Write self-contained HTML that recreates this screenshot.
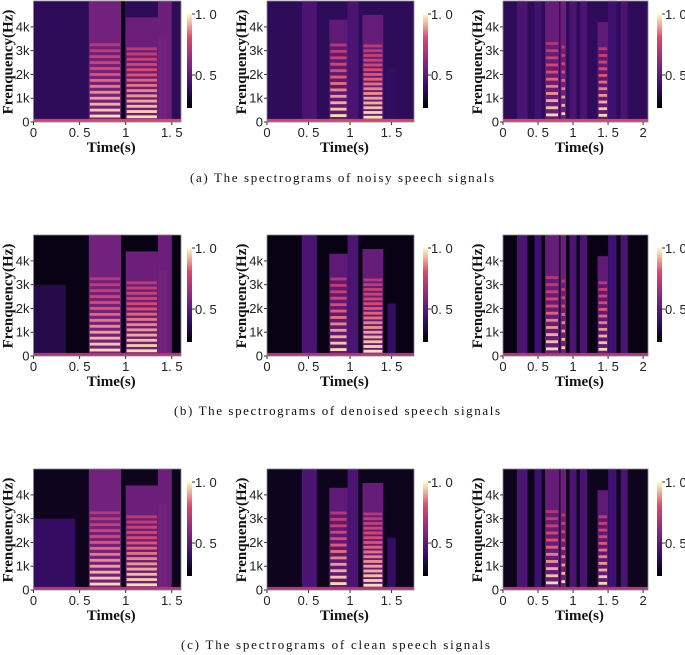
<!DOCTYPE html>
<html><head><meta charset="utf-8">
<style>
body{margin:0;background:#fff;}
svg{display:block;font-family:"Liberation Sans",sans-serif;}
.tk{font-size:13px;fill:#222;}
.lab{font-family:"Liberation Serif",serif;font-weight:bold;font-size:15px;fill:#111;}
.cap{font-family:"Liberation Serif",serif;font-size:13px;fill:#111;}
</style></head>
<body>
<svg id="fig" width="685" height="655" viewBox="0 0 685 655" xmlns="http://www.w3.org/2000/svg">
<defs>
<linearGradient id="magma" x1="0" y1="1" x2="0" y2="0">
<stop offset="0" stop-color="#000004"/><stop offset="0.25" stop-color="#3b0f70"/>
<stop offset="0.5" stop-color="#8c2981"/><stop offset="0.75" stop-color="#de4968"/>
<stop offset="1" stop-color="#fcfdbf"/></linearGradient>
</defs>
<text class="cap" x="190" y="182" textLength="304" lengthAdjust="spacing">(a)  The spectrograms of noisy speech signals</text>
<text class="cap" x="174" y="415" textLength="326" lengthAdjust="spacing">(b)  The spectrograms of denoised speech signals</text>
<text class="cap" x="181" y="649" textLength="309" lengthAdjust="spacing">(c)  The spectrograms of clean speech signals</text>
</svg>
<script>
// utterance data
const utterTmax=[1.6,1.77,2.07];
const utterTicks=[[0,0.5,1,1.5],[0,0.5,1,1.5],[0,0.5,1,1.5,2]];
const freqTicks=[0,1,2,3,4];
const freqTickLabels=["0","1k","2k","3k","4k"];
// segments per utterance: start, end, fmax(kHz), level, f0 spacing (kHz, 0 = unvoiced)
const segStart=[[0.6,0.95,1.0,1.35,1.35],[0.42,0.75,0.97,1.15,1.45],[0.2,0.45,0.6,0.82,0.95,1.1,1.35,1.5,1.68]];
const segEnd=[[0.95,0.99,1.35,1.5,1.45],[0.6,0.97,1.1,1.4,1.55],[0.35,0.55,0.8,0.9,1.05,1.2,1.5,1.62,1.78]];
const segFmax=[[5.1,5.1,4.4,5.1,3.6],[5.1,4.3,5.1,4.5,2.2],[5.1,5.1,5.1,5.1,5.1,5.1,4.2,5.1,5.1]];
const segLevel=[[0.42,0.04,0.4,0.4,0.42],[0.3,0.36,0.3,0.38,0.22],[0.3,0.26,0.38,0.4,0.3,0.3,0.36,0.26,0.3]];
const segF0=[[0.25,0,0.22,0,0],[0,0.27,0,0.2,0],[0,0,0.3,0.35,0,0,0.28,0,0]];
// per row background level (noisy, denoised, clean) and leading noise region for utterance A
const rowBg=[0.2,0.04,0.06];
const leadLevel=[0.2,0.16,0.22];
const leadEnd=[0.0,0.35,0.45];
const colorbarTicks=[1.0,0.5];
const colorbarTickLabels=["1. 0","0. 5"];

const stops=[[0,[0,0,4]],[0.25,[59,15,112]],[0.5,[140,41,129]],[0.75,[222,73,104]],[1,[252,253,191]]];
function cmap(v){v=Math.max(0,Math.min(1,v));for(let i=1;i<stops.length;i++){if(v<=stops[i][0]){const a=stops[i-1],b=stops[i];const t=(v-a[0])/(b[0]-a[0]);const c=a[1].map((x,k)=>Math.round(x+(b[1][k]-x)*t));return`rgb(${c.join(',')})`;}}return'rgb(252,253,191)';}

const svg=document.getElementById('fig');const NS='http://www.w3.org/2000/svg';
function el(tag,attrs,parent){const e=document.createElementNS(NS,tag);for(const k in attrs)e.setAttribute(k,attrs[k]);(parent||svg).appendChild(e);return e;}
const panelLeft=[33.5,267,503];const panelRight=[181,414,648];const cbX=[187,423,657];
const rowTop=[1,235,469];const H=121;const FMAX=5.09;

for(let r=0;r<3;r++){for(let p=0;p<3;p++){
  const g=el('g',{});
  
  
  const L=panelLeft[p],R=panelRight[p],T=rowTop[r],B=T+H,tmax=utterTmax[p];
  const x=t=>L+(R-L)*t/tmax;const y=f=>B-H*f/FMAX;
  el('rect',{x:L,y:T,width:R-L,height:H,fill:cmap(rowBg[r])},g);
  if(p===0&&r>0){const lr=el('rect',{x:x(0),y:y(3),width:x(leadEnd[r])-x(0),height:y(0)-y(3),fill:cmap(leadLevel[r])},g);}
  for(let s=0;s<segStart[p].length;s++){
    const lv=segLevel[p][s];
    const sr=el('rect',{x:x(segStart[p][s]),y:y(segFmax[p][s]),width:x(segEnd[p][s])-x(segStart[p][s]),height:y(0)-y(segFmax[p][s]),fill:cmap(lv)},g);
    
    const f0=segF0[p][s];
    if(f0>0){for(let f=f0;f<3.3;f+=f0){
      const st=el('rect',{x:x(segStart[p][s])+1,y:y(f+0.06),width:x(segEnd[p][s])-x(segStart[p][s])-2,height:y(0)-y(0.12),fill:cmap(0.98-0.11*f)},g);
      }}
  }
  el('rect',{x:L,y:y(0.13),width:R-L,height:y(0)-y(0.13),fill:cmap(r===0?0.72:0.6)},g);
  el('rect',{x:L,y:T,width:R-L,height:H,fill:'none',stroke:'#888','stroke-width':0.8},g);
  utterTicks[p].forEach(t=>{el('line',{x1:x(t),x2:x(t),y1:B,y2:B+3,stroke:'#333'},g);
    const tx=el('text',{class:'tk',x:x(t),y:B+15,'text-anchor':'middle'},g);tx.textContent=String(t).replace('.','. ');});
  freqTicks.forEach((f,i)=>{el('line',{x1:L-3,x2:L,y1:y(f),y2:y(f),stroke:'#333'},g);
    const tx=el('text',{class:'tk',x:L-4,y:y(f)+4.5,'text-anchor':'end'},g);tx.textContent=freqTickLabels[i];});
  const xl=el('text',{class:'lab',x:(L+R)/2+4,y:B+30,'text-anchor':'middle'},g);xl.textContent='Time(s)';
  
  const yl=el('text',{class:'lab',transform:`translate(${L-21},${T+61}) rotate(-90)`,'text-anchor':'middle'},g);yl.textContent='Frenquency(Hz)';
  
  const cb=el('rect',{x:cbX[p],y:T+13,width:5,height:94,fill:'url(#magma)'},g);
  
  const cy=v=>T+13+94*(1-(v-0.23)/0.77);
  colorbarTicks.forEach((v,i)=>{el('line',{x1:cbX[p]+5,x2:cbX[p]+8,y1:cy(v),y2:cy(v),stroke:'#333'},g);
    const tx=el('text',{class:'tk',x:cbX[p]+8,y:cy(v)+5},g);tx.textContent=colorbarTickLabels[i];});
}}
</script>
</body></html>
